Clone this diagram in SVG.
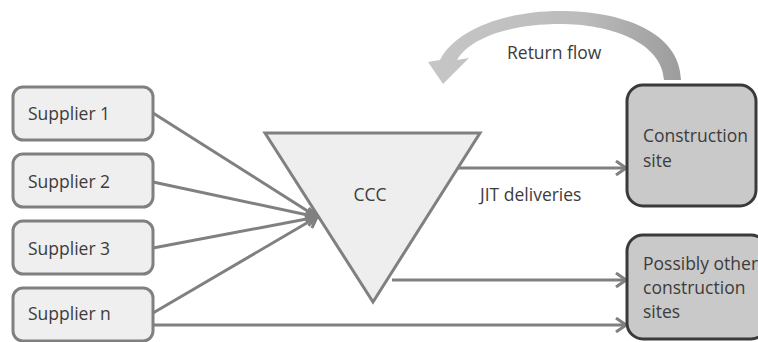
<svg xmlns="http://www.w3.org/2000/svg" width="758" height="342" viewBox="0 0 758 342">
<style>
text{font-family:"Open Sans","Liberation Sans",sans-serif;font-size:17.5px;fill:#3c3c3c}
.sup{fill:#efefef;stroke:#808080;stroke-width:3}
.site{fill:#c9c9c9;stroke:#3a3a3a;stroke-width:3}
.con{stroke:#808080;stroke-width:3;fill:none}
</style>
<defs>
<marker id="ah" markerUnits="userSpaceOnUse" viewBox="0 0 12 16" refX="11" refY="8" markerWidth="12" markerHeight="16" orient="auto">
<path d="M1,1 L11,8 L1,15" fill="none" stroke="#808080" stroke-width="3"/>
</marker>
<linearGradient id="rg" x1="0" y1="0" x2="1" y2="0">
<stop offset="0" stop-color="#c6c6c6"/>
<stop offset="0.6" stop-color="#bcbcbc"/>
<stop offset="1" stop-color="#9c9c9c"/>
</linearGradient>
</defs>
<g id="connectors">
<line class="con" x1="153" y1="113" x2="317" y2="217" marker-end="url(#ah)"/>
<line class="con" x1="153" y1="182" x2="317" y2="217" marker-end="url(#ah)"/>
<line class="con" x1="153" y1="248" x2="317" y2="217" marker-end="url(#ah)"/>
<line class="con" x1="153" y1="313" x2="317" y2="217" marker-end="url(#ah)"/>
<line class="con" x1="153" y1="325" x2="626" y2="325" marker-end="url(#ah)"/>
<line class="con" x1="458" y1="168" x2="626" y2="168" marker-end="url(#ah)"/>
<line class="con" x1="392" y1="280" x2="626" y2="280" marker-end="url(#ah)"/>
<path id="return-flow" d="M681,80 C680,32 622,11 560,11 C505,11 455,30 440,60 L428,62 L443,84 L469,58 L457,60 C470,38 510,24 560,24 C610,24 662,42 664,80 Z" fill="url(#rg)"/>
<text x="507" y="59">Return flow</text>
<text x="480" y="201">JIT deliveries</text>
</g>
<g id="supplier1"><rect class="sup" x="13" y="87" width="140" height="53" rx="10"/><text x="28" y="120">Supplier 1</text></g>
<g id="supplier2"><rect class="sup" x="13" y="154" width="140" height="53" rx="10"/><text x="28" y="188">Supplier 2</text></g>
<g id="supplier3"><rect class="sup" x="13" y="221" width="140" height="53" rx="10"/><text x="28" y="255">Supplier 3</text></g>
<g id="suppliern"><rect class="sup" x="13" y="288" width="140" height="53" rx="10"/><text x="28" y="320">Supplier n</text></g>
<g id="ccc"><polygon points="265,133 480,133 373,302" fill="#eeeeee" stroke="#808080" stroke-width="3" stroke-linejoin="miter"/><text x="370" y="201" text-anchor="middle">CCC</text></g>
<g id="construction-site"><rect class="site" x="627" y="85" width="129" height="121" rx="16"/><text x="643" y="142">Construction</text><text x="643" y="167">site</text></g>
<g id="other-sites"><rect class="site" x="627" y="235" width="140" height="104" rx="16"/><text x="643" y="270">Possibly other</text><text x="643" y="294">construction</text><text x="643" y="318">sites</text></g>
</svg>
